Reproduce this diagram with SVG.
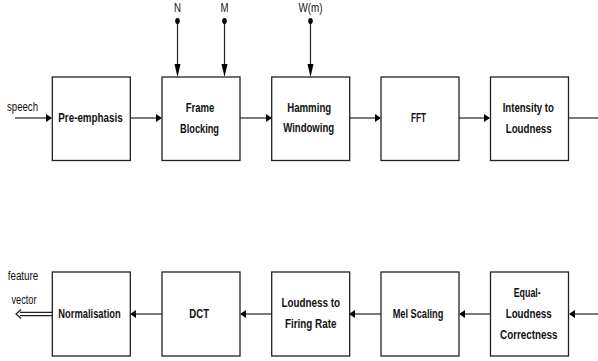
<svg xmlns="http://www.w3.org/2000/svg" width="598" height="361" viewBox="0 0 598 361">
<style>
.box{fill:#fff;stroke:#222;stroke-width:1.3}
.ln{fill:none;stroke:#222;stroke-width:1.2}
.ah{fill:#000}
.lbl{font-family:"Liberation Sans",Arial,sans-serif;font-weight:bold;font-size:12px;fill:#111;text-anchor:middle}
.sm{font-family:"Liberation Sans",Arial,sans-serif;font-size:12px;fill:#111;text-anchor:middle}
</style>
<rect width="598" height="361" fill="#fff"/>
<g id="connectors">
  <line class="ln" x1="15" y1="118" x2="47" y2="118"/>
  <polygon class="ah" points="46,114 52,118 46,122"/>
  <line class="ln" x1="130" y1="118" x2="157" y2="118"/>
  <polygon class="ah" points="156,114 162,118 156,122"/>
  <line class="ln" x1="240" y1="118" x2="266" y2="118"/>
  <polygon class="ah" points="266,114 272,118 266,122"/>
  <line class="ln" x1="349" y1="118" x2="376" y2="118"/>
  <polygon class="ah" points="375,114 381,118 375,122"/>
  <line class="ln" x1="459" y1="118" x2="485" y2="118"/>
  <polygon class="ah" points="484,114 490,118 484,122"/>
  <line class="ln" x1="569" y1="118" x2="598" y2="118"/>
  <line class="ln" x1="177.5" y1="21" x2="177.5" y2="66"/>
  <polygon class="ah" points="174.5,64 180.5,64 177.5,77"/>
  <ellipse class="ah" cx="177.5" cy="21" rx="2.3" ry="3"/>
  <line class="ln" x1="224.5" y1="21" x2="224.5" y2="66"/>
  <polygon class="ah" points="221.5,64 227.5,64 224.5,77"/>
  <ellipse class="ah" cx="224.5" cy="21" rx="2.3" ry="3"/>
  <line class="ln" x1="310.5" y1="21" x2="310.5" y2="66"/>
  <polygon class="ah" points="307.5,64 313.5,64 310.5,77"/>
  <ellipse class="ah" cx="310.5" cy="21" rx="2.3" ry="3"/>
  <line class="ln" x1="598" y1="314" x2="574" y2="314"/>
  <polygon class="ah" points="575,310 569,314 575,318"/>
  <line class="ln" x1="490" y1="314" x2="465" y2="314"/>
  <polygon class="ah" points="465,310 459,314 465,318"/>
  <line class="ln" x1="381" y1="314" x2="355" y2="314"/>
  <polygon class="ah" points="355,310 349,314 355,318"/>
  <line class="ln" x1="272" y1="314" x2="246" y2="314"/>
  <polygon class="ah" points="246,310 240,314 246,318"/>
  <line class="ln" x1="162" y1="314" x2="136" y2="314"/>
  <polygon class="ah" points="136,310 130,314 136,318"/>
  <path class="ln" d="M52,312.3 H20 M52,315.7 H20 M21,309.5 L16,314 L21,318.5" stroke-width="1"/>
</g>
<g id="n-speech"><text class="sm" x="22.5" y="111" textLength="31" lengthAdjust="spacingAndGlyphs">speech</text></g>
<g id="n-N"><text class="sm" x="177.5" y="12" textLength="7" lengthAdjust="spacingAndGlyphs">N</text></g>
<g id="n-M"><text class="sm" x="224.5" y="12" textLength="8" lengthAdjust="spacingAndGlyphs">M</text></g>
<g id="n-W"><text class="sm" x="310.5" y="12" textLength="24" lengthAdjust="spacingAndGlyphs">W(m)</text></g>
<g id="n-preemph"><rect class="box" x="52.3" y="77" width="78" height="83.5"/><text class="lbl" x="90.5" y="122" textLength="64.4" lengthAdjust="spacingAndGlyphs">Pre-emphasis</text></g>
<g id="n-frame"><rect class="box" x="162" y="77" width="78" height="83.5"/><text class="lbl" x="200" y="112.3" textLength="28.7" lengthAdjust="spacingAndGlyphs">Frame</text><text class="lbl" x="199.5" y="132.7" textLength="39" lengthAdjust="spacingAndGlyphs">Blocking</text></g>
<g id="n-hamming"><rect class="box" x="271.7" y="77" width="78" height="83.5"/><text class="lbl" x="309.2" y="112" textLength="44" lengthAdjust="spacingAndGlyphs">Hamming</text><text class="lbl" x="308.7" y="132.3" textLength="51" lengthAdjust="spacingAndGlyphs">Windowing</text></g>
<g id="n-fft"><rect class="box" x="381" y="77" width="78" height="83.5"/><text class="lbl" x="418.5" y="122" textLength="15" lengthAdjust="spacingAndGlyphs">FFT</text></g>
<g id="n-intensity"><rect class="box" x="490.5" y="77" width="78" height="83.5"/><text class="lbl" x="528.3" y="112.3" textLength="51.3" lengthAdjust="spacingAndGlyphs">Intensity to</text><text class="lbl" x="528.7" y="132.7" textLength="46" lengthAdjust="spacingAndGlyphs">Loudness</text></g>
<g id="n-equal"><rect class="box" x="490.5" y="272" width="78" height="84"/><text class="lbl" x="527.2" y="296.5" textLength="27" lengthAdjust="spacingAndGlyphs">Equal-</text><text class="lbl" x="528.7" y="317.5" textLength="46" lengthAdjust="spacingAndGlyphs">Loudness</text><text class="lbl" x="528.7" y="338.5" textLength="57.3" lengthAdjust="spacingAndGlyphs">Correctness</text></g>
<g id="n-mel"><rect class="box" x="381" y="272" width="78" height="84"/><text class="lbl" x="418" y="317.5" textLength="50.7" lengthAdjust="spacingAndGlyphs">Mel Scaling</text></g>
<g id="n-firing"><rect class="box" x="271.7" y="272" width="78" height="84"/><text class="lbl" x="310.7" y="307" textLength="58.5" lengthAdjust="spacingAndGlyphs">Loudness to</text><text class="lbl" x="310.7" y="328" textLength="51.4" lengthAdjust="spacingAndGlyphs">Firing Rate</text></g>
<g id="n-dct"><rect class="box" x="162" y="272" width="78" height="84"/><text class="lbl" x="199.2" y="317.5" textLength="19.7" lengthAdjust="spacingAndGlyphs">DCT</text></g>
<g id="n-norm"><rect class="box" x="52.3" y="272" width="78" height="84"/><text class="lbl" x="89.5" y="317.5" textLength="62.3" lengthAdjust="spacingAndGlyphs">Normalisation</text></g>
<g id="n-feature"><text class="sm" x="23" y="280" textLength="30.6" lengthAdjust="spacingAndGlyphs">feature</text><text class="sm" x="24" y="303.5" textLength="25" lengthAdjust="spacingAndGlyphs">vector</text></g>
</svg>
